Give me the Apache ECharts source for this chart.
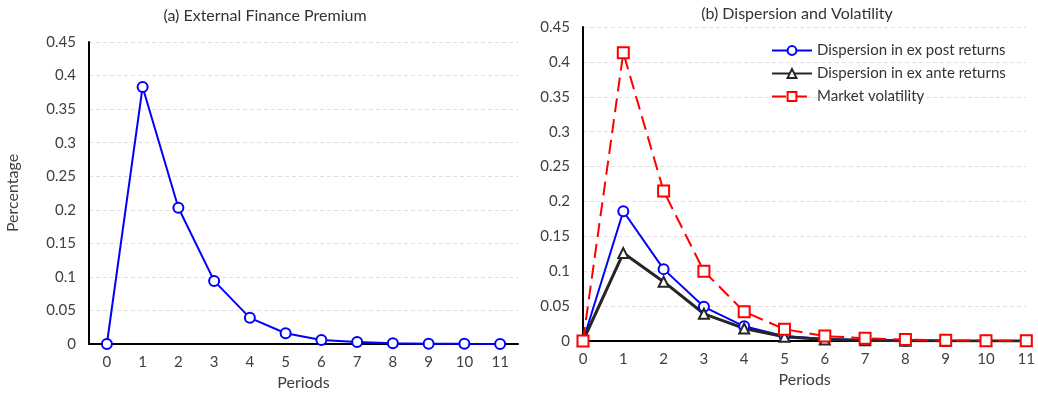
<!DOCTYPE html>
<html>
<head>
<meta charset="utf-8" />
<title></title>
<script src="https://cdn.jsdelivr.net/npm/echarts@6/dist/echarts.min.js"></script>
<style>
html, body { margin: 0; padding: 0; background: #fff; }
#chart { width: 1038px; height: 398px; }
</style>
</head>
<body>
<div id="chart"></div>
<script type="text/javascript">
// periods on the x axis
var periods = ['0', '1', '2', '3', '4', '5', '6', '7', '8', '9', '10', '11'];
// (a) external finance premium
var premium = [0, 0.383, 0.203, 0.094, 0.039, 0.016, 0.006, 0.003, 0.0012, 0.0005, 0.0002, 0.0001];
// (b) dispersion and volatility
var expost = [0, 0.186, 0.103, 0.049, 0.021, 0.007, 0.003, 0.001, 0.0005, 0.0002, 0.0001, 0.0001];
var exante = [0, 0.126, 0.085, 0.039, 0.018, 0.006, 0.002, 0.001, 0.0004, 0.0002, 0.0001, 0.0001];
var volatility = [0, 0.413, 0.215, 0.100, 0.042, 0.017, 0.007, 0.004, 0.002, 0.001, 0.0005, 0.0003];

var FONT = 'Lato';
var TXT = '#404040';

function yAxisOpt(grid) {
	return {
		type : 'value',
		gridIndex : grid,
		min : 0,
		max : 0.45,
		interval : 0.05,
		axisLine : { show : true, lineStyle : { color : '#000', width : 2 } },
		axisTick : { show : false },
		axisLabel : {
			color : TXT, fontFamily : FONT, fontSize : 15, margin : 13,
			formatter : function(v) { return v === 0 ? '0' : String(+v.toFixed(2)); }
		},
		splitLine : { show : true, lineStyle : { color : '#e0e0e0', type : [4, 3], width : 1 } }
	};
}

function xAxisOpt(grid, gap) {
	return {
		type : 'category',
		gridIndex : grid,
		data : periods,
		boundaryGap : gap,
		name : 'Periods',
		nameLocation : 'middle',
		nameGap : 31,
		nameTextStyle : { color : TXT, fontFamily : FONT, fontSize : 16 },
		axisLine : { lineStyle : { color : '#000', width : 2 } },
		axisTick : { show : false },
		axisLabel : { color : TXT, fontFamily : FONT, fontSize : 15, margin : 11, interval : 0 }
	};
}

var chart = echarts.init(document.getElementById('chart'));
chart.setOption({
	animation : false,
	textStyle : { fontFamily : FONT },
	title : [ {
		text : '(a) External Finance Premium',
		left : 260, top : 3, textAlign : 'center',
		textStyle : { color : '#333', fontFamily : FONT, fontSize : 16, fontWeight : 'normal' }
	}, {
		text : '(b) Dispersion and Volatility',
		left : 792, top : 1, textAlign : 'center',
		textStyle : { color : '#333', fontFamily : FONT, fontSize : 16, fontWeight : 'normal' }
	} ],
	legend : {
		orient : 'vertical',
		left : 766, top : 38,
		itemWidth : 40, itemHeight : 11, itemGap : 8,
		textStyle : { color : '#333', fontFamily : FONT, fontSize : 15 },
		data : [ 'Dispersion in ex post returns', 'Dispersion in ex ante returns', 'Market volatility' ]
	},
	grid : [
		{ left : 89, top : 42, right : 520, bottom : 54 },
		{ left : 583, top : 27, right : 10, bottom : 57 }
	],
	xAxis : [ xAxisOpt(0, true), xAxisOpt(1, false) ],
	yAxis : [
		Object.assign(yAxisOpt(0), {
			name : 'Percentage', nameLocation : 'middle', nameGap : 68, nameRotate : 90,
			nameTextStyle : { color : TXT, fontFamily : FONT, fontSize : 16 }
		}),
		yAxisOpt(1)
	],
	series : [ {
		name : 'External finance premium',
		type : 'line',
		xAxisIndex : 0, yAxisIndex : 0,
		data : premium,
		symbol : 'emptyCircle', symbolSize : 10,
		lineStyle : { color : '#0000ff', width : 2 },
		itemStyle : { color : '#0000ff', borderWidth : 2 }
	}, {
		name : 'Dispersion in ex post returns',
		type : 'line',
		xAxisIndex : 1, yAxisIndex : 1,
		data : expost,
		symbol : 'emptyCircle', symbolSize : 10,
		lineStyle : { color : '#0000ff', width : 2 },
		itemStyle : { color : '#0000ff', borderWidth : 2 }
	}, {
		name : 'Dispersion in ex ante returns',
		type : 'line',
		xAxisIndex : 1, yAxisIndex : 1,
		data : exante,
		symbol : 'emptyTriangle', symbolSize : 10,
		lineStyle : { color : '#262626', width : 3 },
		itemStyle : { color : '#262626', borderWidth : 2 }
	}, {
		name : 'Market volatility',
		type : 'line',
		xAxisIndex : 1, yAxisIndex : 1,
		data : volatility,
		symbol : 'emptyRect', symbolSize : 11,
		lineStyle : { color : '#ff0000', width : 2, type : [14, 7] },
		itemStyle : { color : '#ff0000', borderWidth : 2 }
	} ]
});
</script>
</body>
</html>
